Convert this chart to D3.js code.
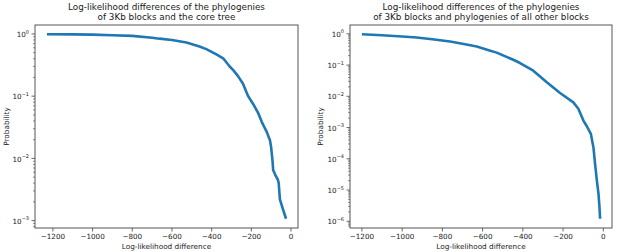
<!DOCTYPE html>
<html><head><meta charset="utf-8">
<script src="https://cdn.jsdelivr.net/npm/d3@7/dist/d3.min.js"></script>
<style>
body{margin:0;background:#fff}
text{font-family:"DejaVu Sans",sans-serif;fill:#1a1a1a}
</style>
</head><body>
<svg id="c" width="617" height="252"></svg>
<script>
// ---- data ----
const leftX = [-1230,-1100,-1000,-900,-800,-700,-663,-600,-527,-461,-427,-376,-340,-309,-290,-267,-242,-216,-191,-166,-148,-135,-123,-110,-106,-100,-98,-93,-90,-80,-66,-62,-56,-40,-25];
const leftY = [0.99,0.985,0.975,0.955,0.93,0.87,0.84,0.80,0.73,0.63,0.57,0.47,0.40,0.30,0.26,0.21,0.158,0.10,0.075,0.054,0.039,0.032,0.027,0.021,0.0196,0.015,0.0129,0.009,0.0065,0.0055,0.0045,0.004,0.0022,0.0015,0.00107];
const rightX = [-1200,-1100,-1000,-928,-850,-762,-700,-629,-570,-530,-445,-414,-348,-281,-215,-149,-124,-99,-82,-62,-49,-41,-32,-24,-19,-16];
const rightY = [0.97,0.90,0.82,0.76,0.67,0.57,0.48,0.39,0.30,0.25,0.145,0.116,0.066,0.028,0.0128,0.0064,0.0040,0.00167,0.0011,0.00063,0.00023,0.000069,0.00002,0.0000076,0.0000028,0.0000012];
const xTicks = [-1200,-1000,-800,-600,-400,-200,0];
const leftYExps = [0,-1,-2,-3];
const rightYExps = [0,-1,-2,-3,-4,-5,-6];
const leftTitle = ["Log-likelihood differences of the phylogenies","of 3Kb blocks and the core tree"];
const rightTitle = ["Log-likelihood differences of the phylogenies","of 3Kb blocks and phylogenies of all other blocks"];
const xLabel = "Log-likelihood difference";
const yLabel = "Probability";

const svg = d3.select("#c");
const fmtNum = v => (v < 0 ? "\u2212" + Math.abs(v) : "" + v);

function panel(box, xs, ys, exps, title, ylabX) {
  const {l, r, t, b} = box;
  const xe = d3.extent(xs), xm = (xe[1]-xe[0])*0.05;
  const x = d3.scaleLinear().domain([xe[0]-xm, xe[1]+xm]).range([l, r]);
  const le = d3.extent(ys.map(Math.log10)), lm = (le[1]-le[0])*0.05;
  const y = d3.scaleLog().domain([Math.pow(10, le[0]-lm), Math.pow(10, le[1]+lm)]).range([b, t]);
  const g = svg.append("g");

  // line
  const pts = xs.map((v,i)=>[v, ys[i]]);
  g.append("path").datum(pts)
    .attr("d", d3.line().x(d=>x(d[0])).y(d=>y(d[1])))
    .attr("fill","none").attr("stroke","#1f77b4").attr("stroke-width",2.6)
    .attr("stroke-linejoin","round").attr("stroke-linecap","butt");

  // frame
  g.append("rect").attr("x",l).attr("y",t).attr("width",r-l).attr("height",b-t)
    .attr("fill","none").attr("stroke","#444").attr("stroke-width",0.9);

  // x ticks
  xTicks.forEach(v=>{
    const px = x(v);
    g.append("line").attr("x1",px).attr("x2",px).attr("y1",b).attr("y2",b+3.5).attr("stroke","#444").attr("stroke-width",0.8);
    g.append("text").attr("x",px).attr("y",b+11).attr("text-anchor","middle").attr("font-size",7.2).text(fmtNum(v));
  });
  g.append("text").attr("x",(l+r)/2).attr("y",b+21).attr("text-anchor","middle").attr("font-size",7.3).text(xLabel);

  // y minor ticks
  const dom = y.domain();
  for (let k=Math.floor(Math.log10(dom[0])); k<=Math.ceil(Math.log10(dom[1])); k++) {
    for (let m=2; m<=9; m++) {
      const v = m*Math.pow(10,k);
      if (v>dom[0] && v<dom[1]) {
        g.append("line").attr("x1",l-2).attr("x2",l).attr("y1",y(v)).attr("y2",y(v)).attr("stroke","#444").attr("stroke-width",0.6);
      }
    }
  }
  // y major ticks
  exps.forEach(e=>{
    const py = y(Math.pow(10,e));
    g.append("line").attr("x1",l-3.5).attr("x2",l).attr("y1",py).attr("y2",py).attr("stroke","#444").attr("stroke-width",0.8);
    const tx = g.append("text").attr("x",l-6).attr("y",py+3.2).attr("text-anchor","end").attr("font-size",7.2);
    tx.append("tspan").text("10");
    tx.append("tspan").attr("dy",-3.6).attr("font-size",5).text(fmtNum(e));
  });
  g.append("text").attr("transform",`translate(${ylabX},${(t+b)/2}) rotate(-90)`)
    .attr("text-anchor","middle").attr("font-size",7.3).text(yLabel);

  // title
  title.forEach((s,i)=>{
    g.append("text").attr("x",(l+r)/2).attr("y",9.8+i*10.6).attr("text-anchor","middle").attr("font-size",8.8).text(s);
  });
}

panel({l:35,r:298,t:25,b:228}, leftX, leftY, leftYExps, leftTitle, 8.5);
panel({l:350,r:612,t:25,b:228}, rightX, rightY, rightYExps, rightTitle, 322.5);
</script>
</body></html>
